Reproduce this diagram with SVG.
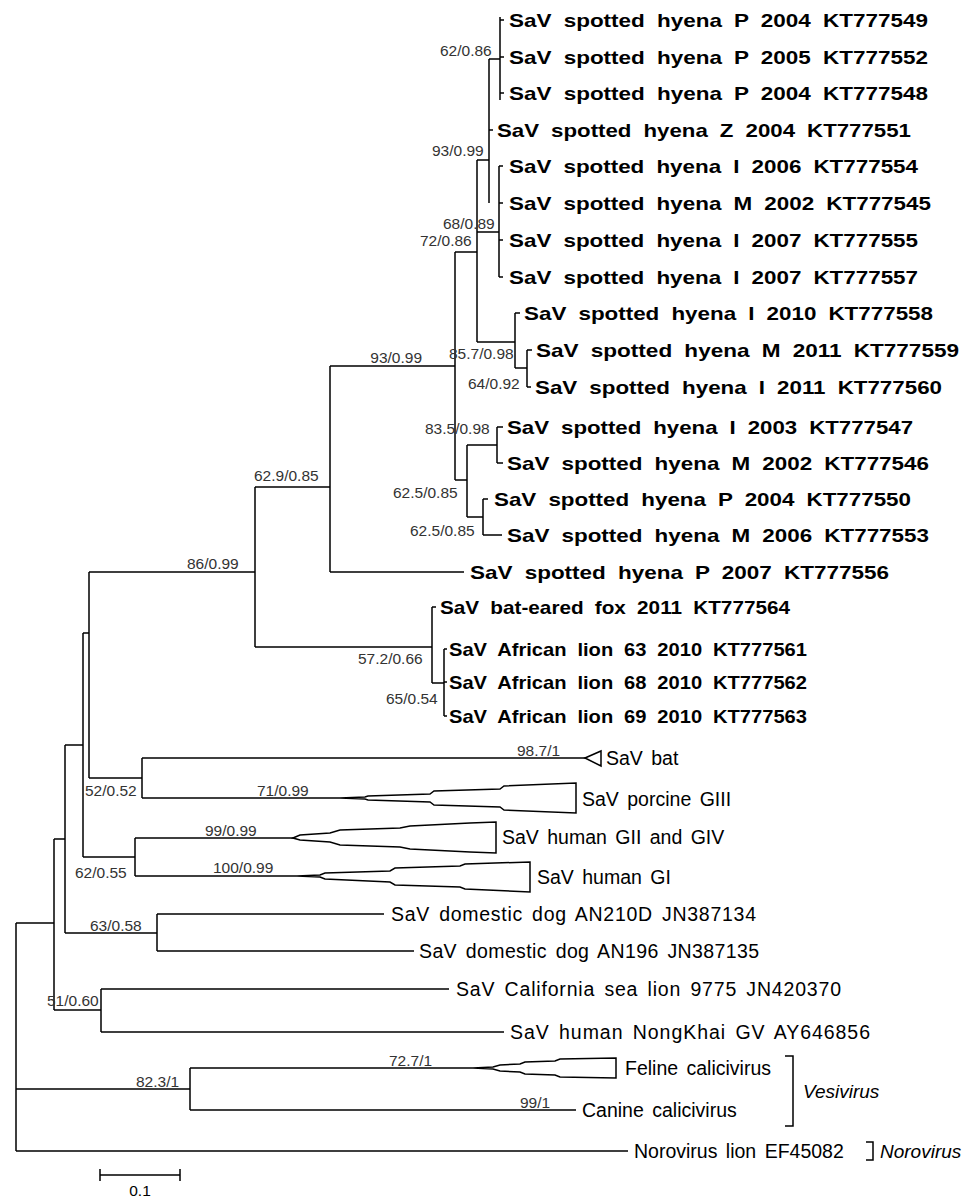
<svg xmlns="http://www.w3.org/2000/svg" width="976" height="1198" viewBox="0 0 976 1198">
<style>
.b{font-family:"Liberation Sans",Arial,sans-serif;font-weight:bold;font-size:19px;word-spacing:5px;fill:#000}
.r{font-family:"Liberation Sans",Arial,sans-serif;font-size:19.5px;word-spacing:3px;fill:#000}
.it{font-family:"Liberation Sans",Arial,sans-serif;font-style:italic;font-size:19px;fill:#000}
.s{font-family:"Liberation Sans",Arial,sans-serif;font-size:15.5px;fill:#333}
.l{stroke:#000;stroke-width:1.5;fill:none}
.t{stroke:#000;stroke-width:1.5;fill:#fff;stroke-linejoin:miter}
</style>
<rect width="976" height="1198" fill="#fff"/>
<g id="connectors" class="l">
<path d="M500,17V100M500,20H504M500,57H504M500,93H504M489,59H500M489,59V203M489,130H493M477,160H489M477,160V342M477,232H499M499,166V277M499,166H503M499,203H503M499,240H503M499,277H503"/>
<path d="M455,252H477M455,252V480M477,342H515M515,313V368M515,313H520M515,368H527M527,350V387M527,350H532M527,387H531"/>
<path d="M330,366H455M455,480H467M467,445V517M467,445H497M497,427V463M497,427H503M497,463H503M467,517H483M483,499V535M483,499H488M483,535H502"/>
<path d="M330,366V572M330,572H464M255,487H330M255,487V647M255,647H432M432,607V683M432,607H436M432,683H444M444,649V716M444,649H447M444,682H447M444,716H447"/>
<path d="M89,572H255M89,572V778M89,778H142M142,758V798M142,758H585M142,798H340M83,633H89M83,633V857M83,857H135M135,838V876M135,838H293M135,876H297"/>
<path d="M65,745H83M65,745V933M65,933H157M157,914V951M157,914H384M157,951H414M54,839H65M54,839V1010M54,1010H101M101,989V1032M101,989H449M101,1032H504"/>
<path d="M16,923H54M16,923V1151M16,1089H190M16,1151H628M190,1068V1110M190,1068H473M190,1110H576"/>
</g>
<g id="clade-bat"><path class="t" d="M585,758L601,751V766Z"/><text class="r" x="606" y="765">SaV bat</text></g>
<g id="clade-porcine"><path class="t" d="M340,798L365,797L368,796L430,794L434,791L500,789L504,786L576,783V813L504,810L500,807L434,805L430,802L368,800L365,799Z"/><text class="r" x="582" y="806">SaV porcine GIII</text></g>
<g id="clade-human-gii-giv"><path class="t" d="M293,838L300,835L330,833L340,830L400,828L410,826L470,823L496,822V853L470,852L410,849L400,847L340,845L330,842L300,840Z"/><text class="r" x="502" y="844">SaV human GII and GIV</text></g>
<g id="clade-human-gi"><path class="t" d="M297,876L320,875L325,873L390,871L395,868L460,866L465,864L530,862V892L465,889L460,887L395,885L390,882L325,879L320,877Z"/><text class="r" x="537" y="884">SaV human GI</text></g>
<g id="clade-feline"><path class="t" d="M473,1068L493,1067L500,1065L520,1064L525,1062L555,1061L560,1059L616,1058V1078L560,1077L555,1075L525,1074L520,1072L500,1071L493,1069Z"/><text class="r" x="625" y="1075">Feline calicivirus</text></g>
<g id="tips">
<g id="t1"><text class="b" x="509" y="27" textLength="419" lengthAdjust="spacingAndGlyphs">SaV spotted hyena P 2004 KT777549</text></g>
<g id="t2"><text class="b" x="509" y="64" textLength="419" lengthAdjust="spacingAndGlyphs">SaV spotted hyena P 2005 KT777552</text></g>
<g id="t3"><text class="b" x="509" y="100" textLength="419" lengthAdjust="spacingAndGlyphs">SaV spotted hyena P 2004 KT777548</text></g>
<g id="t4"><text class="b" x="497" y="137" textLength="414" lengthAdjust="spacingAndGlyphs">SaV spotted hyena Z 2004 KT777551</text></g>
<g id="t5"><text class="b" x="509" y="173" textLength="409" lengthAdjust="spacingAndGlyphs">SaV spotted hyena I 2006 KT777554</text></g>
<g id="t6"><text class="b" x="509" y="210" textLength="422" lengthAdjust="spacingAndGlyphs">SaV spotted hyena M 2002 KT777545</text></g>
<g id="t7"><text class="b" x="509" y="247" textLength="409" lengthAdjust="spacingAndGlyphs">SaV spotted hyena I 2007 KT777555</text></g>
<g id="t8"><text class="b" x="509" y="284" textLength="409" lengthAdjust="spacingAndGlyphs">SaV spotted hyena I 2007 KT777557</text></g>
<g id="t9"><text class="b" x="524" y="320" textLength="409" lengthAdjust="spacingAndGlyphs">SaV spotted hyena I 2010 KT777558</text></g>
<g id="t10"><text class="b" x="536" y="357" textLength="423" lengthAdjust="spacingAndGlyphs">SaV spotted hyena M 2011 KT777559</text></g>
<g id="t11"><text class="b" x="535" y="394" textLength="407" lengthAdjust="spacingAndGlyphs">SaV spotted hyena I 2011 KT777560</text></g>
<g id="t12"><text class="b" x="507" y="434" textLength="406" lengthAdjust="spacingAndGlyphs">SaV spotted hyena I 2003 KT777547</text></g>
<g id="t13"><text class="b" x="507" y="470" textLength="422" lengthAdjust="spacingAndGlyphs">SaV spotted hyena M 2002 KT777546</text></g>
<g id="t14"><text class="b" x="494" y="506" textLength="417" lengthAdjust="spacingAndGlyphs">SaV spotted hyena P 2004 KT777550</text></g>
<g id="t15"><text class="b" x="507" y="542" textLength="422" lengthAdjust="spacingAndGlyphs">SaV spotted hyena M 2006 KT777553</text></g>
<g id="t16"><text class="b" x="470" y="579" textLength="419" lengthAdjust="spacingAndGlyphs">SaV spotted hyena P 2007 KT777556</text></g>
<g id="t17"><text class="b" x="440" y="614" textLength="350" lengthAdjust="spacingAndGlyphs">SaV bat-eared fox 2011 KT777564</text></g>
<g id="t18"><text class="b" x="449" y="656" textLength="358" lengthAdjust="spacingAndGlyphs">SaV African lion 63 2010 KT777561</text></g>
<g id="t19"><text class="b" x="449" y="689" textLength="358" lengthAdjust="spacingAndGlyphs">SaV African lion 68 2010 KT777562</text></g>
<g id="t20"><text class="b" x="449" y="723" textLength="358" lengthAdjust="spacingAndGlyphs">SaV African lion 69 2010 KT777563</text></g>
<g id="t21"><text class="r" x="391" y="921" textLength="365" lengthAdjust="spacing">SaV domestic dog AN210D JN387134</text></g>
<g id="t22"><text class="r" x="419" y="958" textLength="340" lengthAdjust="spacing">SaV domestic dog AN196 JN387135</text></g>
<g id="t23"><text class="r" x="456" y="996" textLength="385" lengthAdjust="spacing">SaV California sea lion 9775 JN420370</text></g>
<g id="t24"><text class="r" x="510" y="1039" textLength="360" lengthAdjust="spacing">SaV human NongKhai GV AY646856</text></g>
<g id="t25"><text class="r" x="582" y="1117">Canine calicivirus</text></g>
<g id="t26"><text class="r" x="634" y="1158">Norovirus lion EF45082</text></g>
</g>
<g id="support" class="s">
<text x="440" y="56">62/0.86</text>
<text x="432" y="156">93/0.99</text>
<text x="443" y="229">68/0.89</text>
<text x="420" y="246">72/0.86</text>
<text x="422" y="363" text-anchor="end">93/0.99</text>
<text x="449" y="359">85.7/0.98</text>
<text x="468" y="389">64/0.92</text>
<text x="425" y="434">83.5/0.98</text>
<text x="393" y="498">62.5/0.85</text>
<text x="410" y="536">62.5/0.85</text>
<text x="254" y="481">62.9/0.85</text>
<text x="187" y="569">86/0.99</text>
<text x="358" y="664">57.2/0.66</text>
<text x="386" y="704">65/0.54</text>
<text x="517" y="756">98.7/1</text>
<text x="85" y="796">52/0.52</text>
<text x="257" y="796">71/0.99</text>
<text x="205" y="836">99/0.99</text>
<text x="75" y="878">62/0.55</text>
<text x="213" y="873">100/0.99</text>
<text x="90" y="931">63/0.58</text>
<text x="47" y="1006">51/0.60</text>
<text x="389" y="1066">72.7/1</text>
<text x="136" y="1087">82.3/1</text>
<text x="520" y="1108">99/1</text>
</g>
<g id="group-vesivirus"><path class="l" d="M785,1056H793V1126H785"/><text class="it" x="803" y="1098">Vesivirus</text></g>
<g id="group-norovirus"><path class="l" d="M866,1142H873V1160H866"/><text class="it" x="880" y="1158">Norovirus</text></g>
<g id="scale-bar"><path class="l" d="M100,1175H180M100,1169V1181M180,1169V1181"/><text class="s" x="140" y="1196" text-anchor="middle" style="fill:#000">0.1</text></g>
</svg>
